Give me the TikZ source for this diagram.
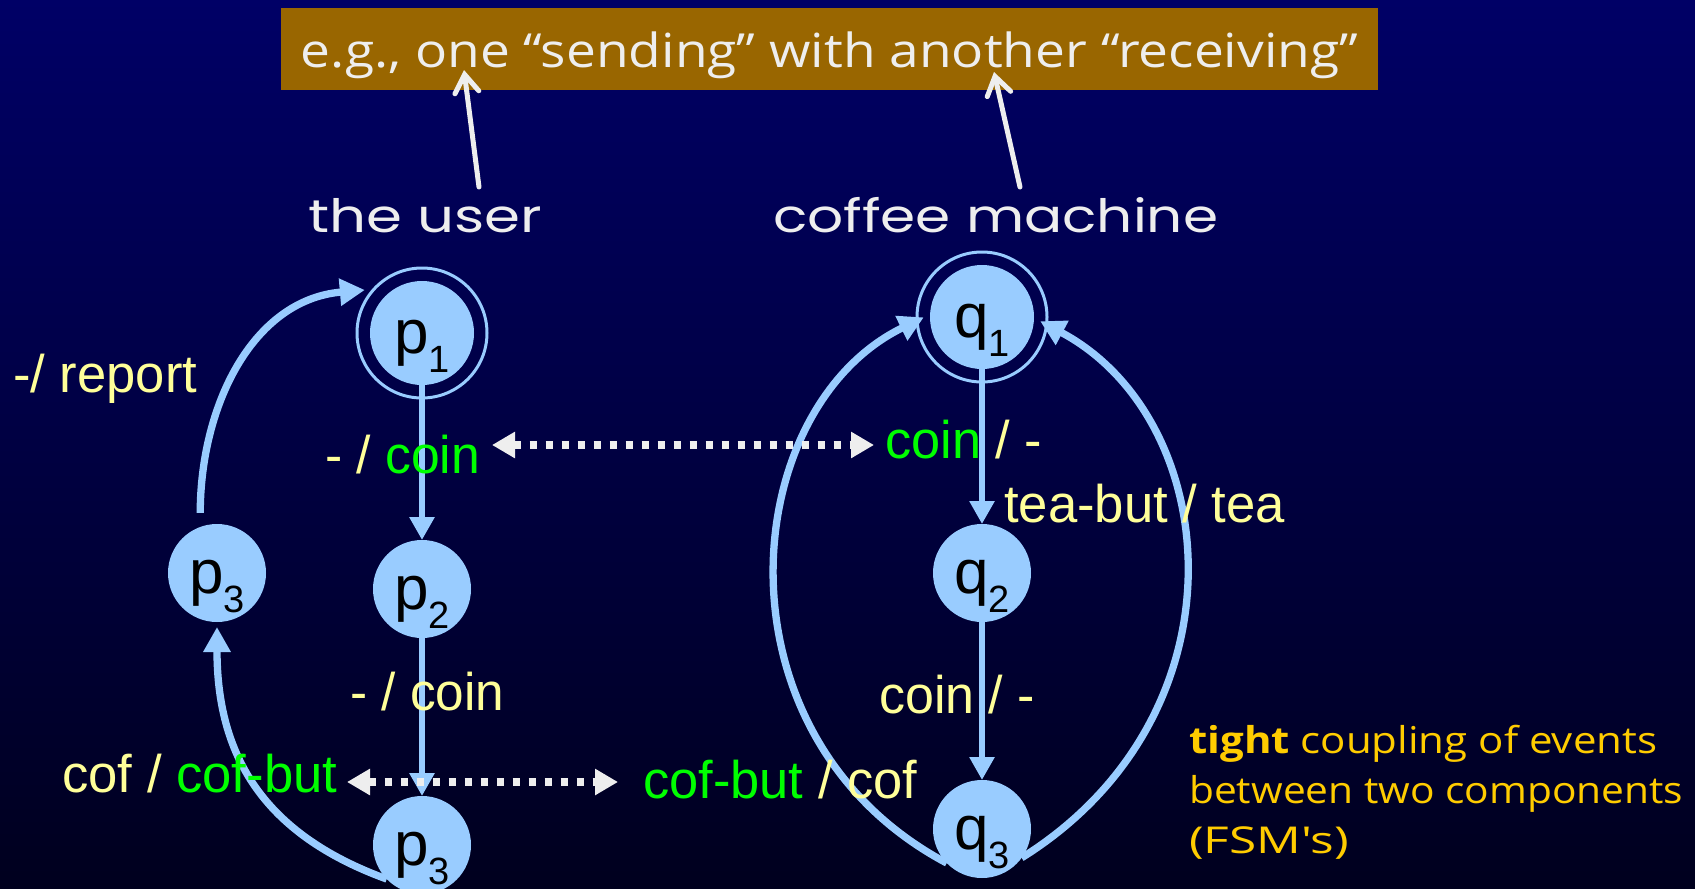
\documentclass[tikz,border=0pt]{standalone}
\usepackage{fontspec}
\usepackage{graphicx}
\setmainfont{Liberation Sans}
\newfontfamily\headfont{Poppins}
\newfontfamily\notefont[Ligatures=TeXOff]{Open Sans}
\usetikzlibrary{arrows.meta}

\definecolor{bgtop}{HTML}{000066}
\definecolor{bgmid}{HTML}{00005A}
\definecolor{bgbot}{HTML}{00001E}
\definecolor{nodeblue}{HTML}{99CCFF}
\definecolor{labyel}{HTML}{FFFF99}
\definecolor{labgrn}{HTML}{00FF00}
\definecolor{paleink}{HTML}{EEEEEE}
\definecolor{bannerbrown}{HTML}{996600}
\definecolor{noteorange}{HTML}{FFCC00}

% stretch a line of text to a given width, keeping its height
\newcommand\fitw[2]{\resizebox{#1}{\height}{#2}}
% lowered state index
\newcommand\idx[1]{\raisebox{-19pt}{\fontsize{38}{38}\selectfont #1}}

\tikzset{
  stnode/.style={circle, fill=nodeblue, draw=none, inner sep=0pt, outer sep=0pt,
    minimum size=98pt, text=black, font=\fontsize{62}{62}\selectfont,
    text height=44pt, text depth=4pt},
  initnode/.style={stnode, minimum size=104pt},
  ringnode/.style={circle, draw=nodeblue, line width=3pt, minimum size=130pt, inner sep=0pt},
  fwd/.style={draw=nodeblue, line width=6.5pt, -{Triangle[length=23pt,width=24pt]}},
  backarc/.style={draw=nodeblue, line width=7.3pt, -{Triangle[length=25pt,width=26pt]}},
  lbl/.style={anchor=base west, inner sep=0pt, text=labyel, font=\fontsize{53}{53}\selectfont},
  head/.style={anchor=base west, inner sep=0pt, text=paleink, font=\headfont\fontsize{46}{46}\selectfont},
  note/.style={anchor=base west, inner sep=0pt, text=noteorange, font=\notefont\fontsize{37}{37}\selectfont},
  banner/.style={fill=bannerbrown, minimum width=1097pt, minimum height=82pt, inner sep=0pt,
    text=paleink, font=\notefont\fontsize{47}{47}\selectfont, text height=40pt, text depth=4pt},
  pointer/.style={draw=paleink, line width=5pt, line cap=round,
    -{Straight Barb[length=18pt,width=24pt,line cap=round]}},
  sync/.style={draw=paleink, line width=8pt, dash pattern=on 7pt off 9pt,
    {Triangle[length=23pt,width=25pt]}-{Triangle[length=23pt,width=25pt]}}
}

\begin{document}
\begin{tikzpicture}[x=1pt,y=1pt]
\useasboundingbox (0,0) rectangle (1695,-889);
\fill[top color=bgtop, middle color=bgmid, bottom color=bgbot] (0,0) rectangle (1695,-889);

% caption banner
\node[banner] (eg) at (829.5,-49) {\fitw{1057pt}{e.g., one “sending” with another “receiving”}};

% component titles
\node[head] (user) at (308,-232) {\fitw{234pt}{the user}};
\node[head] (machine) at (773,-232) {\fitw{445pt}{coffee machine}};

% user automaton
\node[initnode] (p1) at (422,-333) {p\idx{1}};
\node[ringnode] (p1r) at (422,-333) {};
\node[stnode] (p2) at (422,-589) {p\idx{2}};
\node[stnode] (p3) at (422,-845) {p\idx{3}};
\node[stnode] (p4) at (217,-573) {p\idx{3}};

% coffee machine automaton
\node[initnode] (q1) at (982,-317) {q\idx{1}};
\node[ringnode] (q1r) at (982,-317) {};
\node[stnode] (q2) at (982,-573) {q\idx{2}};
\node[stnode] (q3) at (982,-829) {q\idx{3}};

% transitions
\draw[fwd] (p1) -- (p2);
\draw[fwd] (p2) -- (p3);
\draw[fwd] (q1) -- (q2);
\draw[fwd] (q2) -- (q3);
\draw[backarc, shorten <=14pt, shorten >=7pt] (p4.110) to[out=90,in=185,looseness=1.05] (p1r.139);
\draw[backarc, shorten >=5pt] (p3.224) to[out=160,in=270,looseness=1.1] (p4.south);
\draw[backarc, shorten >=7pt] (q3.224) .. controls +(152:270) and +(206:215) .. (q1.177);
\draw[backarc, shorten >=7pt] (q3.324) .. controls +(32:270) and +(332:215) .. (q1.-1);

% transition labels
\node[lbl] (lreport) at (13,-392) {\fitw{184pt}{-/ report}};
\node[lbl] (lcoinA) at (325,-473) {\fitw{155pt}{- / \textcolor{labgrn}{coin}}};
\node[lbl] (lcoinB) at (885,-458) {\fitw{157pt}{\textcolor{labgrn}{coin} / -}};
\node[lbl] (ltea) at (1004,-522) {\fitw{281pt}{tea-but / tea}};
\node[lbl] (lcoinC) at (350,-710) {\fitw{154pt}{- / coin}};
\node[lbl] (lcoinD) at (879,-713) {\fitw{156pt}{coin / -}};
\node[lbl] (lcofA) at (62,-792) {\fitw{275pt}{cof / \textcolor{labgrn}{cof-but}}};
\node[lbl] (lcofB) at (643,-798) {\fitw{274pt}{\textcolor{labgrn}{cof-but} / cof}};

% synchronised events
\coordinate (sa1) at (492,-445);
\coordinate (sa2) at (874,-445);
\coordinate (sb1) at (347,-782);
\coordinate (sb2) at (618,-782);
\draw[sync] (sa1) -- (sa2);
\draw[sync] (sb1) -- (sb2);

% pointers from titles to the caption
\coordinate (ua0) at (479,-187);
\coordinate (ua1) at (464,-70);
\coordinate (ma0) at (1020,-187);
\coordinate (ma1) at (994,-72);
\draw[pointer] (ua0) -- (ua1);
\draw[pointer] (ma0) -- (ma1);

% side note
\node[note] (n1) at (1189,-753) {\fitw{468pt}{\textbf{tight} coupling of events}};
\node[note] (n2) at (1189,-803) {\fitw{494pt}{between two components}};
\node[note] (n3) at (1189,-853) {\fitw{160pt}{(FSM's)}};
\end{tikzpicture}
\end{document}
